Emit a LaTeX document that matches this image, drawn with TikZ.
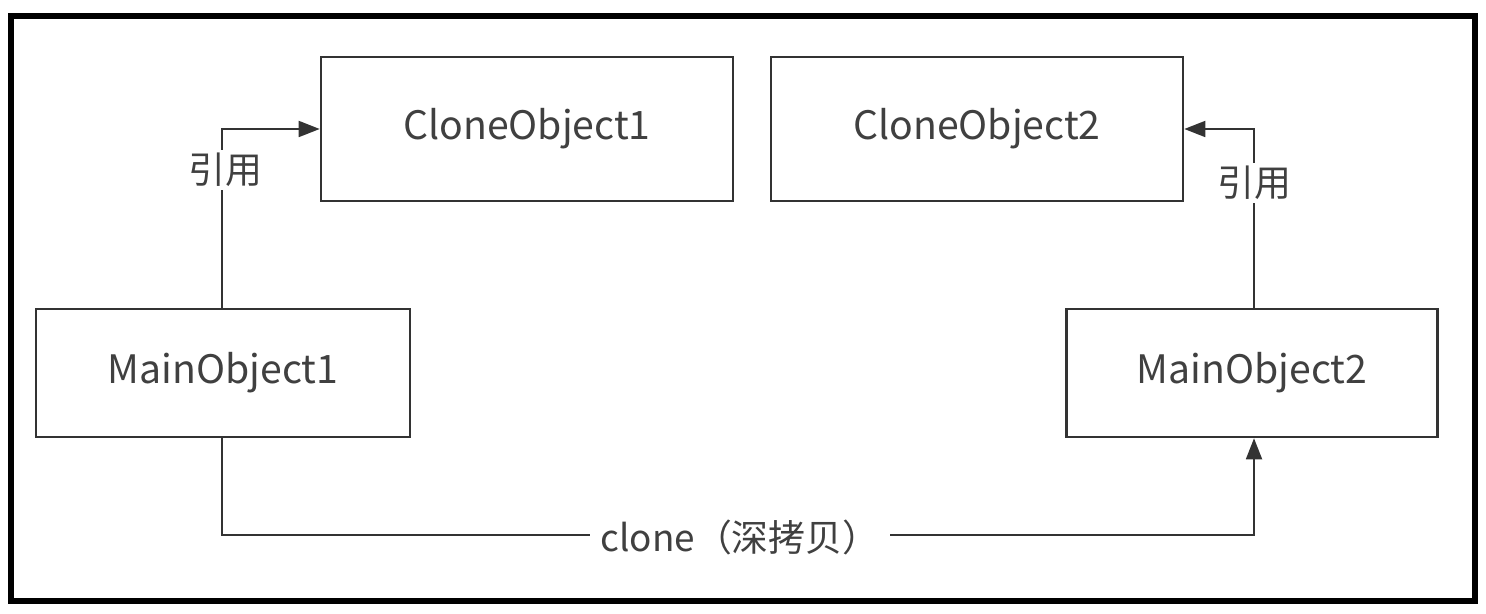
\documentclass[tikz,border=0pt]{standalone}
\usepackage{fontspec}
\setmainfont{Noto Sans CJK SC}
\usetikzlibrary{arrows.meta,positioning}
\definecolor{LineGray}{RGB}{51,51,51}
\definecolor{TextGray}{RGB}{64,64,64}
\tikzset{
  objbox/.style={draw=LineGray, line width=1.4pt, fill=white,
    text=TextGray, font=\fontsize{22.3}{26}\selectfont},
  link/.style={-{Triangle[length=12pt,width=9pt]}, line width=1.4pt, LineGray},
  linklabel/.style={fill=white, text=TextGray, inner sep=2pt,
    font=\fontsize{21}{25}\selectfont}
}
\begin{document}
\begin{tikzpicture}[x=0.02cm,y=-0.02cm]
  \useasboundingbox (0,0) rectangle (1486,614);
  \draw[line width=3.4pt] (11,16) rectangle (1475,601);

  \node[objbox,minimum width=412*0.02cm,minimum height=144*0.02cm]
    (clone1) at (527,129) {CloneObject1};
  \node[objbox,minimum width=412*0.02cm,minimum height=144*0.02cm]
    (clone2) at (977,129) {CloneObject2};
  \node[objbox,minimum width=374*0.02cm,minimum height=128*0.02cm]
    (main1) at (223,373) {MainObject1};
  \node[objbox,minimum width=371*0.02cm,minimum height=128*0.02cm]
    (main2) at (1252,373) {MainObject2};

  \coordinate (bend1) at (222,129);
  \coordinate (bend2) at (1254,129);
  \coordinate (low1) at (222,535);
  \coordinate (low2) at (1254,535);

  % references
  \draw[link] (main1.north -| bend1) -- (bend1) -- (clone1.west);
  \draw[link] (main2.north -| bend2) -- (bend2) -- (clone2.east);
  \node[linklabel] (ref1) at (225,170) {引用};
  \node[linklabel] (ref2) at (1254,183) {引用};

  % deep copy
  \draw[link] (main1.south -| low1) -- (low1) -- (low2) -- (main2.south -| low2);
  \node[linklabel,inner xsep=6pt] (copy) at (740,537) {clone（深拷贝）};
\end{tikzpicture}
\end{document}
